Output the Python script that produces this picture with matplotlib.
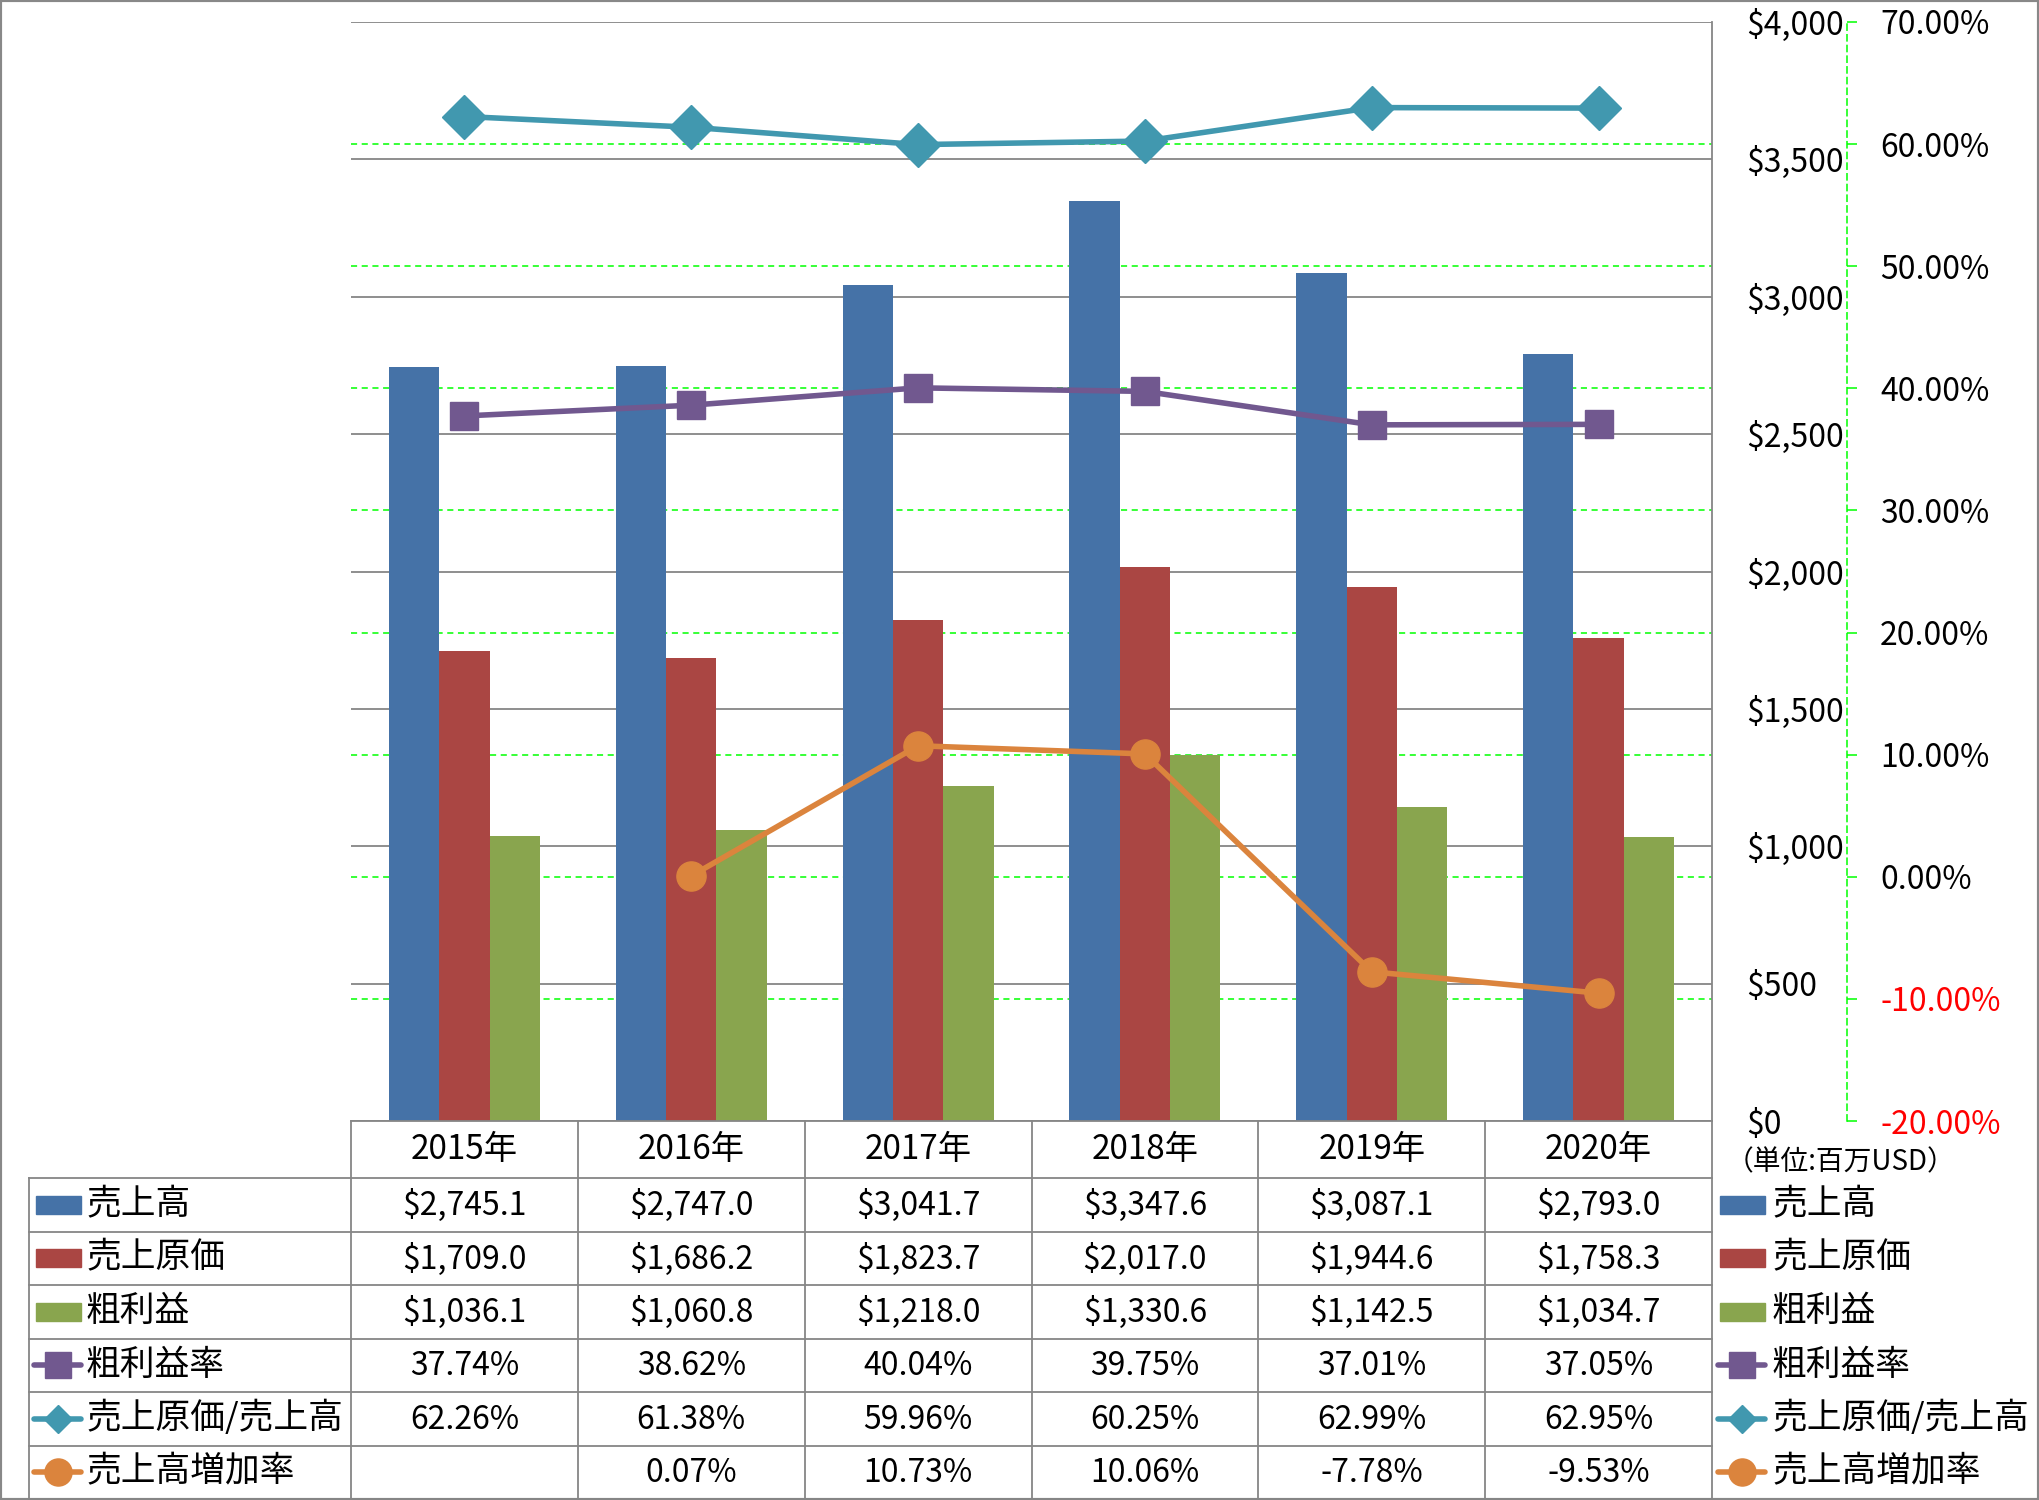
import matplotlib
matplotlib.use('Agg')
import matplotlib.pyplot as plt
import matplotlib.transforms as mtransforms
from matplotlib.patches import Rectangle
from matplotlib.lines import Line2D
import numpy as np

plt.rcParams['font.family'] = ['Noto Sans CJK JP', 'DejaVu Sans']

# data (百万USD)
years = ['2015年', '2016年', '2017年', '2018年', '2019年', '2020年']
sales = [2745.1, 2747.0, 3041.7, 3347.6, 3087.1, 2793.0]
cogs = [1709.0, 1686.2, 1823.7, 2017.0, 1944.6, 1758.3]
gross = [1036.1, 1060.8, 1218.0, 1330.6, 1142.5, 1034.7]
gross_rate = [37.74, 38.62, 40.04, 39.75, 37.01, 37.05]
cogs_ratio = [62.26, 61.38, 59.96, 60.25, 62.99, 62.95]
growth = [None, 0.07, 10.73, 10.06, -7.78, -9.53]

bar_names = ['売上高', '売上原価', '粗利益']
line_names = ['粗利益率', '売上原価/売上高', '売上高増加率']
bar_colors = ['#4572A7', '#AA4643', '#89A54E']
line_colors = ['#71588F', '#4198AF', '#DB843D']
line_markers = ['s', 'D', 'o']
marker_sizes = [20, 22, 21]
key_marker_sizes = [19, 14.5, 19.5]

W, H = 2039, 1500
px = 72 / 100  # pixels -> points
grid_gray = '#868686'
green = '#00FF00'
fs = 23

fig = plt.figure(figsize=(W / 100, H / 100), dpi=100)

# plot area in pixels
L, R, T, B = 351, 1712, 22, 1121
ax = fig.add_axes([L / W, 1 - B / H, (R - L) / W, (B - T) / H])
ax2 = ax.twinx()

x = np.arange(len(years))
w = 0.222
for i, vals in enumerate([sales, cogs, gross]):
    ax.bar(x + (i - 1) * w, vals, w, color=bar_colors[i], zorder=2)

ax.set_xlim(-0.5, len(years) - 0.5)
ax.set_ylim(0, 4000)
ax.set_xticks([])
ax.yaxis.tick_right()
yt = np.arange(0, 4001, 500)
ax.set_yticks(yt)
ax.set_yticklabels([f'${v:,.0f}' for v in yt])
ax.tick_params(axis='y', length=0, pad=34 * px, labelsize=fs)
ax.yaxis.grid(True, color=grid_gray, lw=1.3)
ax.set_axisbelow(True)
for s in ['top', 'left', 'bottom']:
    ax.spines[s].set_visible(False)
ax.spines['right'].set_color(grid_gray)
ax.spines['right'].set_linewidth(1.3)

# secondary axis (percent)
y2 = np.arange(-20, 71, 10)
ax2.set_ylim(-20, 70)
ax2.set_yticks(y2)
ax2.set_yticklabels([f'{v:.2f}%' for v in y2])
ax2.spines['right'].set_position(('outward', 135 * px))
ax2.spines['right'].set_color(green)
ax2.spines['right'].set_linestyle((0, (4, 3)))
ax2.spines['right'].set_linewidth(1.1)
for s in ['top', 'left', 'bottom']:
    ax2.spines[s].set_visible(False)
ax2.tick_params(axis='y', length=10 * px, width=1.1, color=green, pad=23 * px, labelsize=fs)

# secondary gridlines drawn behind the bars
blend = mtransforms.blended_transform_factory(ax.transAxes, ax2.transData)
for v in y2[1:-1]:
    ax.add_line(Line2D([0, 1], [v, v], transform=blend, color=green, lw=1.1,
                       ls=(0, (4, 3)), zorder=0.6))

line_data = [gross_rate, cogs_ratio, [np.nan if v is None else v for v in growth]]
for i, vals in enumerate(line_data):
    ax2.plot(x, vals, color=line_colors[i], lw=4, marker=line_markers[i],
             ms=marker_sizes[i], zorder=3)

# data table below the chart
tab = fig.add_axes([0, 0, 1, 1], zorder=5)
tab.set_xlim(0, W)
tab.set_ylim(H, 0)
tab.axis('off')
tab.patch.set_alpha(0)
bt = mtransforms.blended_transform_factory(ax.transData, tab.transData)

row_top = 1178
row_h = 53.5
n_rows = 6
bottom = row_top + n_rows * row_h
left_col = 29
tcol = grid_gray
tlw = 1.3

# horizontal lines
tab.plot([L, R], [B, B], color=tcol, lw=tlw)
for k in range(n_rows + 1):
    yy = row_top + k * row_h
    tab.plot([left_col, R], [yy, yy], color=tcol, lw=tlw)
# vertical lines
tab.plot([left_col, left_col], [row_top, bottom], color=tcol, lw=tlw)
for k in range(len(years) + 1):
    tab.plot([k - 0.5, k - 0.5], [B, bottom], color=tcol, lw=tlw, transform=bt)

# header
for i, yr in enumerate(years):
    tab.text(i, (B + row_top) / 2, yr, transform=bt, ha='center', va='center', fontsize=fs + 1)

rows = [
    [f'${v:,.1f}' for v in sales],
    [f'${v:,.1f}' for v in cogs],
    [f'${v:,.1f}' for v in gross],
    [f'{v:.2f}%' for v in gross_rate],
    [f'{v:.2f}%' for v in cogs_ratio],
    ['' if v is None else f'{v:.2f}%' for v in growth],
]
names = bar_names + line_names


def legend_key(xl, yc, k):
    if k < 3:
        tab.add_patch(Rectangle((xl + 7, yc - 9), 45, 18, color=bar_colors[k]))
    else:
        j = k - 3
        tab.add_line(Line2D([xl + 5, xl + 52], [yc, yc], color=line_colors[j], lw=4,
                            solid_capstyle='round'))
        tab.add_line(Line2D([xl + 28.5], [yc], color=line_colors[j],
                            marker=line_markers[j], ms=key_marker_sizes[j], lw=0))


for r in range(n_rows):
    yc = row_top + (r + 0.5) * row_h
    for i, t in enumerate(rows[r]):
        tab.text(i, yc + 1, t, transform=bt, ha='center', va='center', fontsize=fs)
    legend_key(left_col, yc, r)
    tab.text(left_col + 57, yc, names[r], ha='left', va='center', fontsize=25)
    # right legend
    legend_key(R + 1, yc, r)
    tab.text(R + 60, yc, names[r], ha='left', va='center', fontsize=25)

tab.text(1726, 1162, '（単位:百万USD）', ha='left', va='center', fontsize=20)

# outer border
fig.add_artist(Rectangle((0, 0), 1, 1, transform=fig.transFigure, fill=False,
                         ec='#888888', lw=3))

# negative percentages in red
fig.canvas.draw()
for tick, v in zip(ax2.yaxis.get_major_ticks(), y2):
    if v < 0:
        tick.label1.set_color('#FF0000')
        tick.label2.set_color('#FF0000')

fig.savefig('out.png', dpi=100)
